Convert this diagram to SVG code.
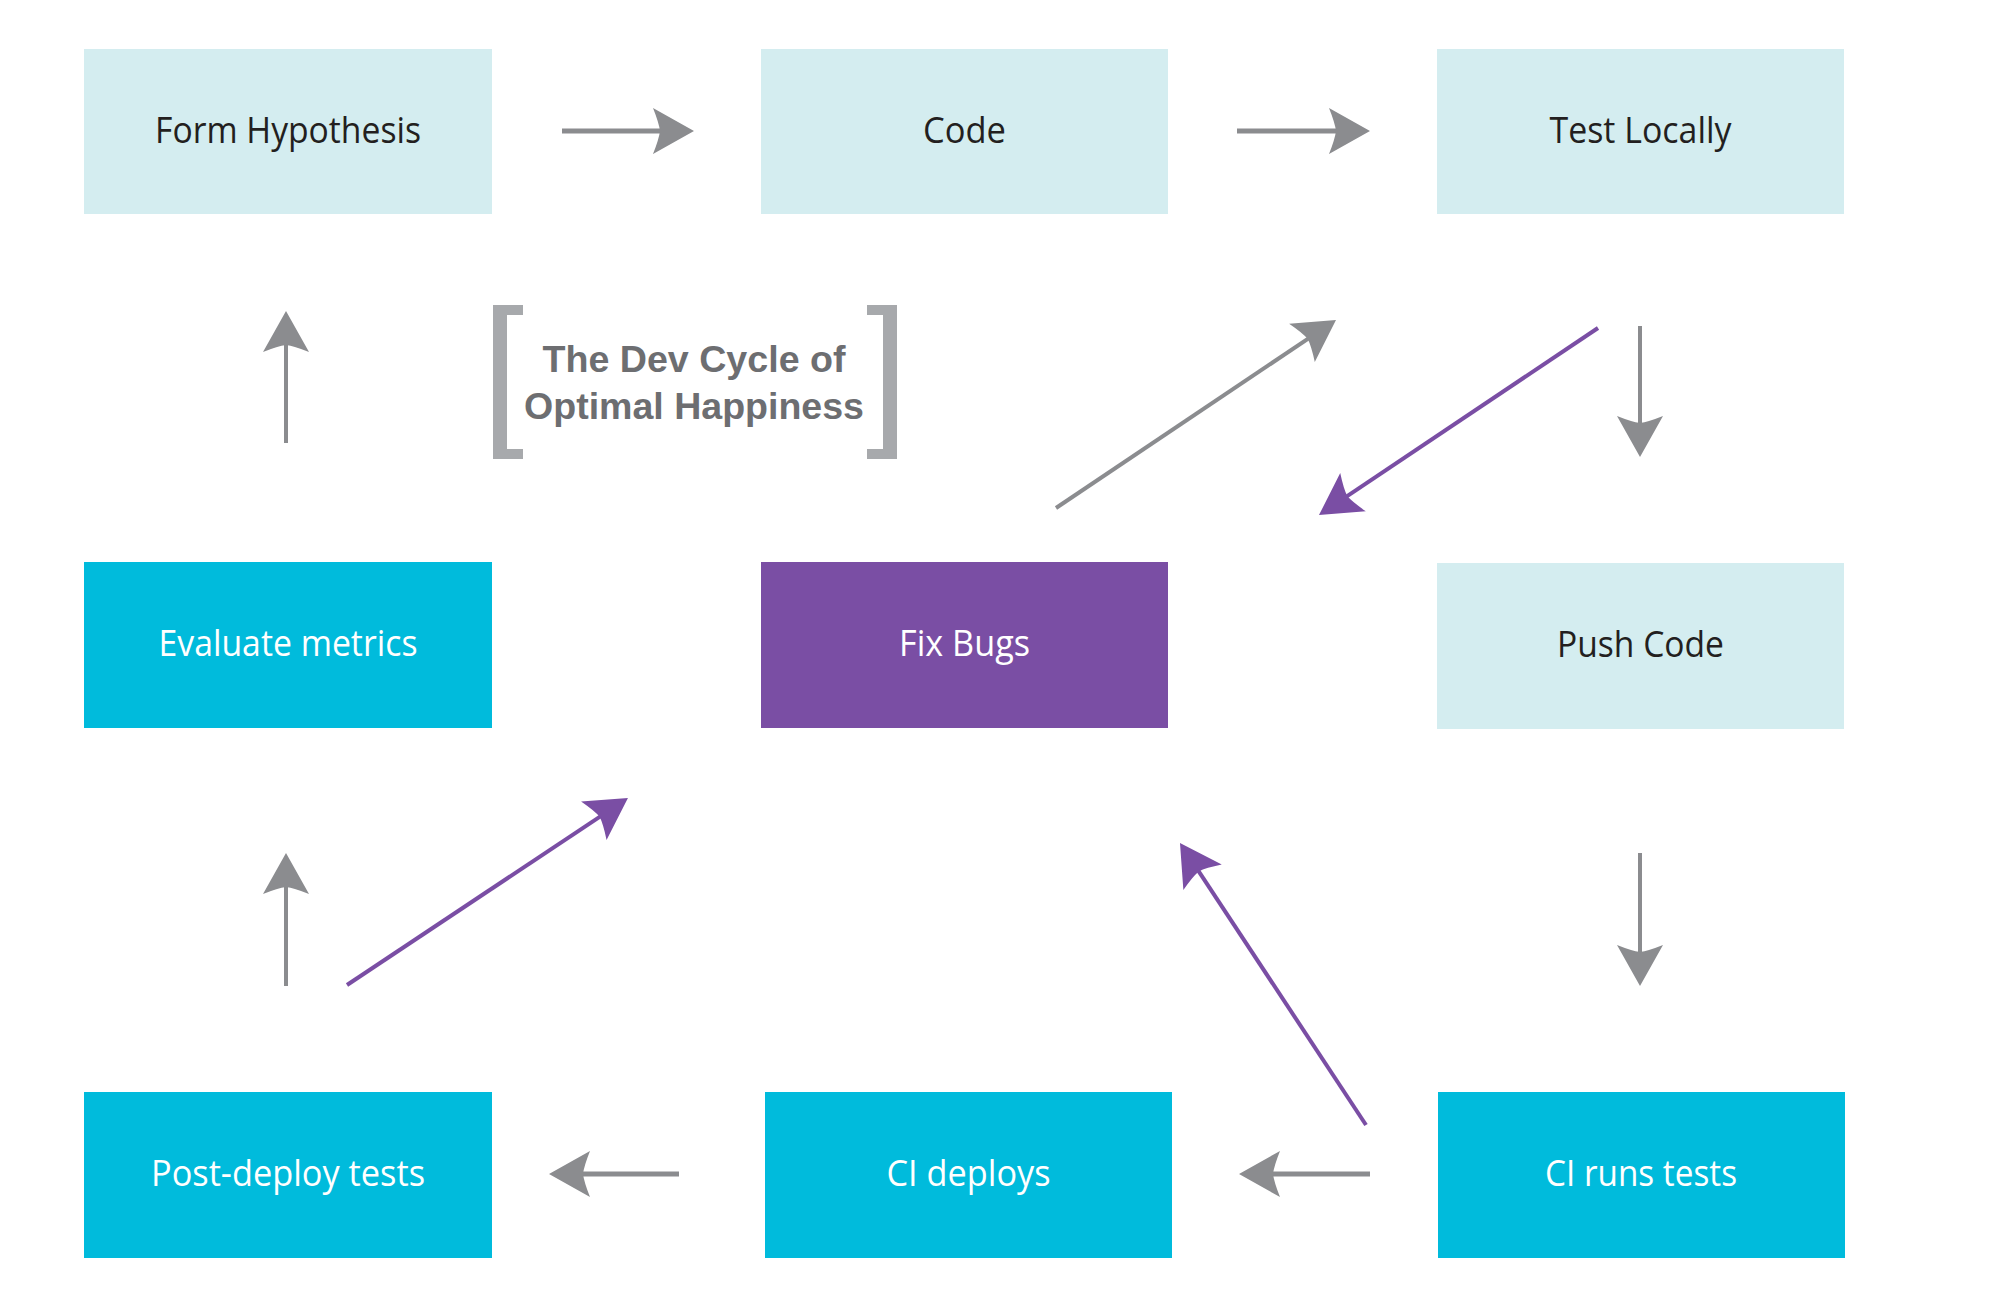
<svg xmlns="http://www.w3.org/2000/svg" width="2002" height="1306" viewBox="0 0 2002 1306">
<style>
.light{fill:#d4edf0}
.cyan{fill:#00bbdc}
.purple{fill:#7a4ea4}
.lbl{font-family:"Open Sans","Noto Sans",sans-serif;font-size:37px;text-anchor:middle}
.dark{fill:#231f20}
.white{fill:#ffffff}
.title{font-family:"Liberation Sans",Arial,sans-serif;font-weight:bold;font-size:37px;fill:#6d6e71;text-anchor:middle}
.g{stroke:#8b8c8f;fill:none}
.p{stroke:#7a4ea4;fill:none}
.h{stroke-width:5}
.v{stroke-width:4}
.d{stroke-width:4}
</style>
<defs>
<marker id="ag" viewBox="-24 -26 48 52" markerWidth="48" markerHeight="52" refX="0" refY="0" orient="auto" markerUnits="userSpaceOnUse">
<path d="M20,0 L-21,-23 Q-15,-8 -14,0 Q-15,8 -21,23 Z" fill="#8b8c8f"/>
</marker>
<marker id="ap" viewBox="-24 -26 48 52" markerWidth="48" markerHeight="52" refX="0" refY="0" orient="auto" markerUnits="userSpaceOnUse">
<path d="M20,0 L-21,-23 Q-15,-8 -14,0 Q-15,8 -21,23 Z" fill="#7a4ea4"/>
</marker>
</defs>
<rect width="2002" height="1306" fill="#ffffff"/>

<g id="form-hypothesis"><rect class="light" x="84" y="49" width="408" height="165"/><text class="lbl dark" x="288" y="143" textLength="266" lengthAdjust="spacingAndGlyphs">Form Hypothesis</text></g>
<g id="code"><rect class="light" x="761" y="49" width="407" height="165"/><text class="lbl dark" x="964.5" y="143" textLength="83" lengthAdjust="spacingAndGlyphs">Code</text></g>
<g id="test-locally"><rect class="light" x="1437" y="49" width="407" height="165"/><text class="lbl dark" x="1640.5" y="143" textLength="182" lengthAdjust="spacingAndGlyphs">Test Locally</text></g>

<g id="evaluate-metrics"><rect class="cyan" x="84" y="562" width="408" height="166"/><text class="lbl white" x="288" y="656" textLength="259" lengthAdjust="spacingAndGlyphs">Evaluate metrics</text></g>
<g id="fix-bugs"><rect class="purple" x="761" y="562" width="407" height="166"/><text class="lbl white" x="964.5" y="656" textLength="131" lengthAdjust="spacingAndGlyphs">Fix Bugs</text></g>
<g id="push-code"><rect class="light" x="1437" y="563" width="407" height="166"/><text class="lbl dark" x="1640.5" y="657" textLength="167" lengthAdjust="spacingAndGlyphs">Push Code</text></g>

<g id="post-deploy-tests"><rect class="cyan" x="84" y="1092" width="408" height="166"/><text class="lbl white" x="288" y="1186" textLength="274" lengthAdjust="spacingAndGlyphs">Post-deploy tests</text></g>
<g id="ci-deploys"><rect class="cyan" x="765" y="1092" width="407" height="166"/><text class="lbl white" x="968.5" y="1186" textLength="164" lengthAdjust="spacingAndGlyphs">CI deploys</text></g>
<g id="ci-runs-tests"><rect class="cyan" x="1438" y="1092" width="407" height="166"/><text class="lbl white" x="1641" y="1186" textLength="192" lengthAdjust="spacingAndGlyphs">CI runs tests</text></g>

<g id="title">
<path d="M523,305 H493 V459 H523 V449 H507 V315 H523 Z" fill="#a7a9ac"/>
<path d="M867,305 H897 V459 H867 V449 H883 V315 H867 Z" fill="#a7a9ac"/>
<text class="title" x="694" y="372" textLength="303" lengthAdjust="spacingAndGlyphs">The Dev Cycle of</text>
<text class="title" x="694" y="419" textLength="340" lengthAdjust="spacingAndGlyphs">Optimal Happiness</text>
</g>

<g id="connectors">
<line class="g h" x1="562" y1="131" x2="674" y2="131" marker-end="url(#ag)"/>
<line class="g h" x1="1237" y1="131" x2="1350" y2="131" marker-end="url(#ag)"/>
<line class="g v" x1="1640" y1="326" x2="1640" y2="437" marker-end="url(#ag)"/>
<line class="g v" x1="1640" y1="853" x2="1640" y2="966" marker-end="url(#ag)"/>
<line class="g h" x1="1370" y1="1174" x2="1259" y2="1174" marker-end="url(#ag)"/>
<line class="g h" x1="679" y1="1174" x2="569" y2="1174" marker-end="url(#ag)"/>
<line class="g v" x1="286" y1="986" x2="286" y2="873" marker-end="url(#ag)"/>
<line class="g v" x1="286" y1="443" x2="286" y2="331" marker-end="url(#ag)"/>
<line class="g d" x1="1056" y1="508" x2="1319.4" y2="331.1" marker-end="url(#ag)"/>
<line class="p d" x1="1598" y1="328" x2="1335.6" y2="503.9" marker-end="url(#ap)"/>
<line class="p d" x1="1366" y1="1125" x2="1191" y2="859.7" marker-end="url(#ap)"/>
<line class="p d" x1="347" y1="985" x2="611.3" y2="809.1" marker-end="url(#ap)"/>
</g>
</svg>
